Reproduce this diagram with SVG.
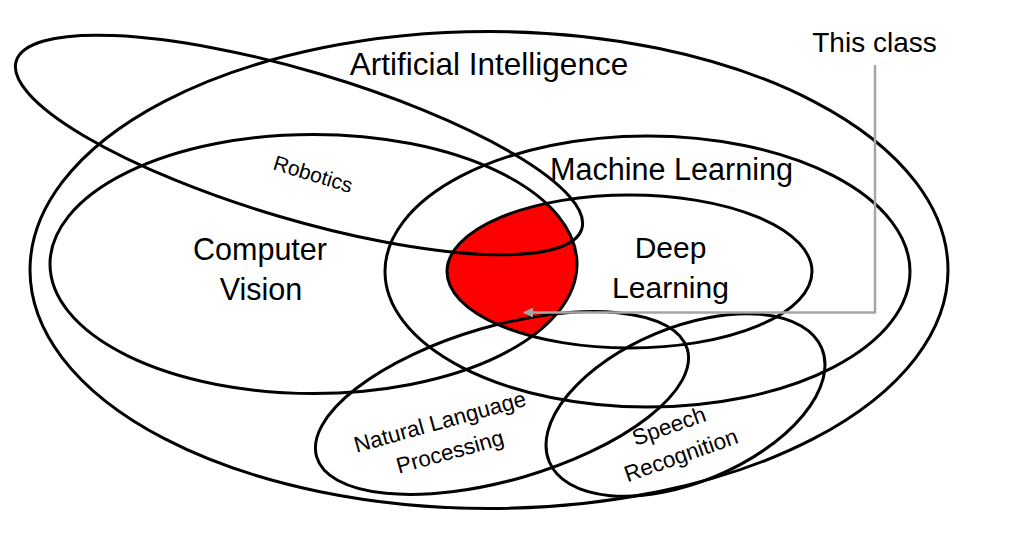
<svg xmlns="http://www.w3.org/2000/svg" width="1011" height="545" viewBox="0 0 1011 545">
  <style>
    .ring { fill: none; stroke: #000; stroke-width: 3; }
    .lbl { font-family: "Liberation Sans", Arial, sans-serif; fill: #000; text-anchor: middle; }
    .conn { fill: none; stroke: #a6a6a6; stroke-width: 2.5; }
  </style>
  <defs>
    <clipPath id="cvClip">
      <ellipse cx="313.5" cy="264" rx="263.5" ry="129.5"/>
    </clipPath>
    <marker id="arrow" viewBox="0 0 10 10" refX="9" refY="5" markerWidth="4" markerHeight="4" orient="auto-start-reverse" markerUnits="strokeWidth">
      <path d="M0,0 L10,5 L0,10 z" fill="#a6a6a6"/>
    </marker>
  </defs>
  <rect width="1011" height="545" fill="#fff"/>

  <g id="this-class-region">
    <ellipse cx="629.5" cy="271.5" rx="182.5" ry="76.5" fill="#ff0000" clip-path="url(#cvClip)"/>
  </g>

  <g id="artificial-intelligence">
    <ellipse class="ring" cx="489" cy="270" rx="459" ry="238.5"/>
    <text class="lbl" x="489" y="75" font-size="31.5">Artificial Intelligence</text>
  </g>

  <g id="robotics">
    <ellipse class="ring" cx="299" cy="145" rx="295" ry="74" transform="rotate(16.5 299 145)"/>
    <text class="lbl" font-size="21" transform="translate(311 181) rotate(17)">Robotics</text>
  </g>

  <g id="computer-vision">
    <ellipse class="ring" cx="313.5" cy="264" rx="263.5" ry="129.5"/>
    <text class="lbl" x="260" y="260" font-size="30.5">Computer</text>
    <text class="lbl" x="261" y="300" font-size="30.5">Vision</text>
  </g>

  <g id="machine-learning">
    <ellipse class="ring" cx="647.5" cy="271.5" rx="262.5" ry="135.5"/>
    <text class="lbl" x="671.5" y="180" font-size="30.6">Machine Learning</text>
  </g>

  <g id="deep-learning">
    <ellipse class="ring" cx="629.5" cy="271.5" rx="182.5" ry="76.5"/>
    <text class="lbl" x="670.5" y="258" font-size="30">Deep</text>
    <text class="lbl" x="670.5" y="298" font-size="30">Learning</text>
  </g>

  <g id="natural-language-processing">
    <ellipse class="ring" cx="502" cy="403" rx="193" ry="77" transform="rotate(-16.2 502 403)"/>
    <g transform="translate(442 429) rotate(-15.5)">
      <text class="lbl" x="0" y="0" font-size="22.3">Natural Language</text>
      <text class="lbl" x="1.6" y="31.6" font-size="22.3">Processing</text>
    </g>
  </g>

  <g id="speech-recognition">
    <ellipse class="ring" cx="685.5" cy="405" rx="147.6" ry="77.4" transform="rotate(-22.6 685.5 405)"/>
    <g transform="translate(671.5 433.3) rotate(-19.5)">
      <text class="lbl" x="0" y="0" font-size="22.5">Speech</text>
      <text class="lbl" x="1.6" y="31.5" font-size="22.5">Recognition</text>
    </g>
  </g>

  <g id="this-class">
    <text class="lbl" x="874.5" y="52" font-size="28">This class</text>
  </g>

  <g id="connectors">
    <polyline class="conn" points="875,65 875,312.5 524,312.5" marker-end="url(#arrow)"/>
  </g>
</svg>
